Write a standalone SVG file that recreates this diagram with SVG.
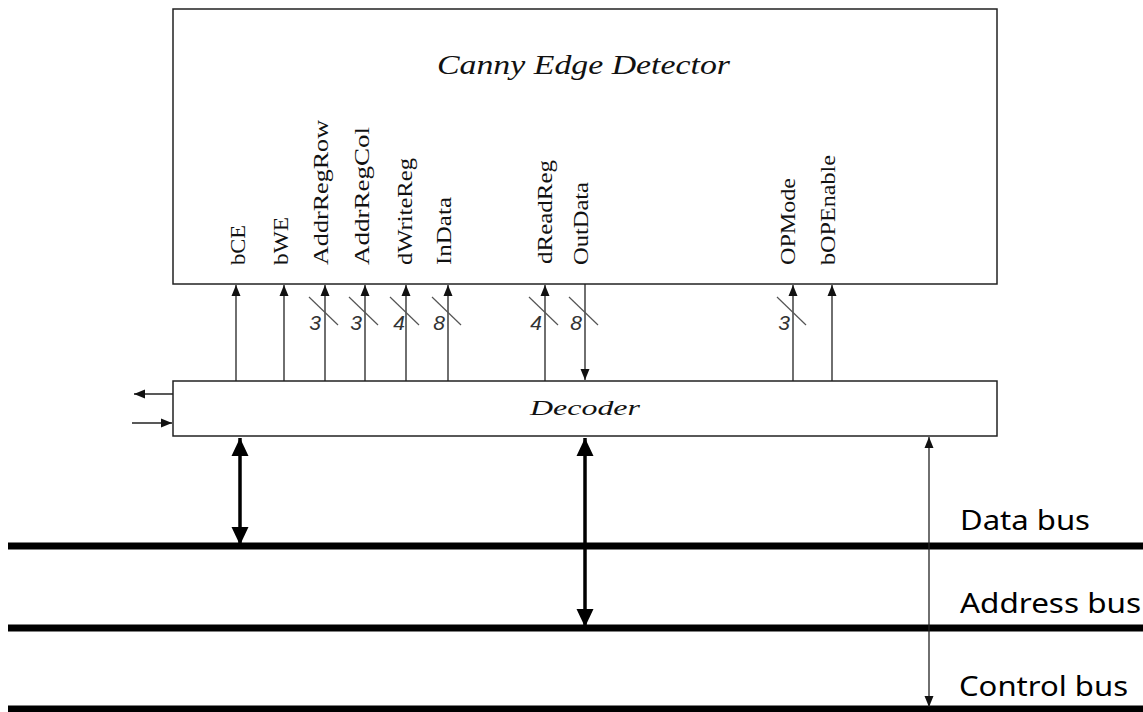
<svg xmlns="http://www.w3.org/2000/svg" width="1143" height="712" viewBox="0 0 1143 712">
<style>
.box{fill:#fff;stroke:#222;stroke-width:1.5}
.sig{stroke:#222;stroke-width:1.3;fill:none}
.slash{stroke:#555;stroke-width:1.2}
.lbl{font-family:"Liberation Serif",serif;font-size:20px;fill:#111}
.num{font-family:"Liberation Sans",sans-serif;font-style:italic;font-size:21px;fill:#333;text-anchor:end}
.ttl{font-family:"Liberation Serif",serif;font-style:italic;fill:#111}
.bus{stroke:#000;stroke-width:7}
.big{stroke:#000;stroke-width:3.5;fill:none}
.bl{font-family:"Noto Sans","Open Sans",sans-serif;font-size:28px;fill:#000}
</style>
<defs>
<marker id="ah" markerUnits="userSpaceOnUse" markerWidth="12" markerHeight="12" viewBox="0 0 12 12" refX="11" refY="6" orient="auto-start-reverse">
<path d="M0,1.5 L11,6 L0,10.5 Z" fill="#111"/>
</marker>
<marker id="bh" markerUnits="userSpaceOnUse" markerWidth="20" markerHeight="20" viewBox="0 0 20 20" refX="18" refY="10" orient="auto-start-reverse">
<path d="M0,1.5 L18,10 L0,18.5 Z" fill="#000"/>
</marker>
</defs>

<g id="buses">
<line class="bus" x1="8" y1="546" x2="1143" y2="546"/>
<line class="bus" x1="8" y1="628" x2="1143" y2="628"/>
<line class="bus" x1="8" y1="709" x2="1143" y2="709"/>
<text class="bl" x="960" y="530" textLength="130" lengthAdjust="spacingAndGlyphs">Data bus</text>
<text class="bl" x="960" y="613" textLength="181" lengthAdjust="spacingAndGlyphs">Address bus</text>
<text class="bl" x="959" y="696" textLength="169" lengthAdjust="spacingAndGlyphs">Control bus</text>
</g>

<g id="canny">
<rect class="box" x="173" y="9" width="824" height="275"/>
<text class="ttl" x="437" y="74" font-size="27" textLength="293" lengthAdjust="spacingAndGlyphs">Canny Edge Detector</text>
<text class="lbl" transform="translate(245,265) rotate(-90)" textLength="40" lengthAdjust="spacingAndGlyphs">bCE</text>
<text class="lbl" transform="translate(288,265) rotate(-90)" textLength="48" lengthAdjust="spacingAndGlyphs">bWE</text>
<text class="lbl" transform="translate(328,265) rotate(-90)" textLength="145" lengthAdjust="spacingAndGlyphs">AddrRegRow</text>
<text class="lbl" transform="translate(369,265) rotate(-90)" textLength="138" lengthAdjust="spacingAndGlyphs">AddrRegCol</text>
<text class="lbl" transform="translate(412,265) rotate(-90)" textLength="107" lengthAdjust="spacingAndGlyphs">dWriteReg</text>
<text class="lbl" transform="translate(451,265) rotate(-90)" textLength="68" lengthAdjust="spacingAndGlyphs">InData</text>
<text class="lbl" transform="translate(552,264) rotate(-90)" textLength="104" lengthAdjust="spacingAndGlyphs">dReadReg</text>
<text class="lbl" transform="translate(588,265) rotate(-90)" textLength="83" lengthAdjust="spacingAndGlyphs">OutData</text>
<text class="lbl" transform="translate(795,265) rotate(-90)" textLength="87" lengthAdjust="spacingAndGlyphs">OPMode</text>
<text class="lbl" transform="translate(835,265) rotate(-90)" textLength="110" lengthAdjust="spacingAndGlyphs">bOPEnable</text>
</g>

<g id="decoder">
<rect class="box" x="173" y="381" width="824" height="55"/>
<text class="ttl" x="585" y="415" font-size="21" text-anchor="middle" textLength="110" lengthAdjust="spacingAndGlyphs">Decoder</text>
</g>

<g id="connectors">
<line class="sig" x1="236" y1="381" x2="236" y2="285" marker-end="url(#ah)"/>
<line class="sig" x1="284" y1="381" x2="284" y2="285" marker-end="url(#ah)"/>
<line class="sig" x1="325" y1="381" x2="325" y2="285" marker-end="url(#ah)"/>
<line class="sig" x1="365" y1="381" x2="365" y2="285" marker-end="url(#ah)"/>
<line class="sig" x1="406" y1="381" x2="406" y2="285" marker-end="url(#ah)"/>
<line class="sig" x1="448" y1="381" x2="448" y2="285" marker-end="url(#ah)"/>
<line class="sig" x1="545" y1="381" x2="545" y2="285" marker-end="url(#ah)"/>
<line class="sig" x1="585" y1="284" x2="585" y2="380" marker-end="url(#ah)"/>
<line class="sig" x1="793" y1="381" x2="793" y2="285" marker-end="url(#ah)"/>
<line class="sig" x1="832" y1="381" x2="832" y2="285" marker-end="url(#ah)"/>

<line class="slash" x1="309" y1="297" x2="338" y2="325"/>
<line class="slash" x1="349" y1="297" x2="378" y2="325"/>
<line class="slash" x1="390" y1="297" x2="419" y2="325"/>
<line class="slash" x1="432" y1="297" x2="461" y2="325"/>
<line class="slash" x1="529" y1="297" x2="558" y2="325"/>
<line class="slash" x1="569" y1="297" x2="598" y2="325"/>
<line class="slash" x1="777" y1="297" x2="806" y2="325"/>

<text class="num" x="321" y="330">3</text>
<text class="num" x="362" y="330">3</text>
<text class="num" x="405" y="330">4</text>
<text class="num" x="445" y="330">8</text>
<text class="num" x="542" y="330">4</text>
<text class="num" x="582" y="330">8</text>
<text class="num" x="790" y="330">3</text>

<line class="sig" x1="173" y1="394" x2="134" y2="394" marker-end="url(#ah)"/>
<line class="sig" x1="132" y1="423" x2="172" y2="423" marker-end="url(#ah)"/>

<line class="big" x1="240" y1="438" x2="240" y2="545" marker-start="url(#bh)" marker-end="url(#bh)"/>
<line class="big" x1="585" y1="438" x2="585" y2="627" marker-start="url(#bh)" marker-end="url(#bh)"/>

<line class="sig" x1="929" y1="437" x2="929" y2="707" marker-start="url(#ah)" marker-end="url(#ah)"/>
</g>
</svg>
